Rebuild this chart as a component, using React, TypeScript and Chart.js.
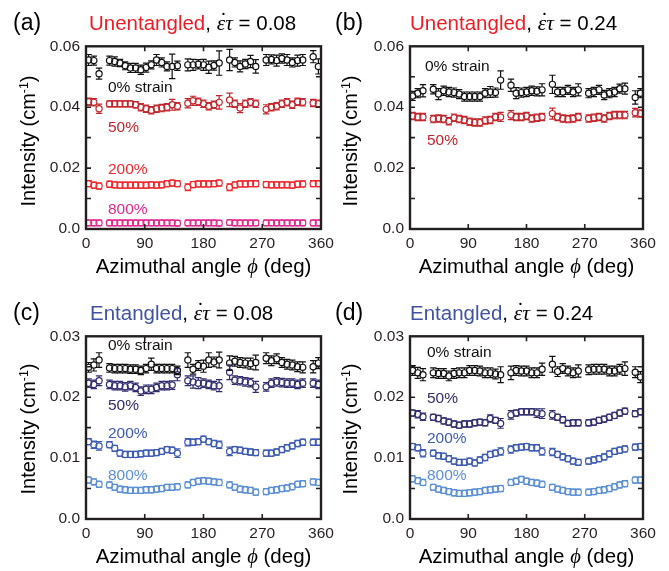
import React, { useEffect, useRef } from 'react';
import { Chart, registerables } from 'chart.js';
Chart.register(...registerables);

// Azimuthal angle bins (deg); gaps are masked sectors
const ANGLES = [4, 12, 20, 28, 36, 44, 52, 60, 68, 76, 84, 92, 100, 108, 116, 124, 132, 140, 148, 156, 164, 172, 180, 188, 196, 204, 212, 220, 228, 236, 244, 252, 260, 268, 276, 284, 292, 300, 308, 316, 324, 332, 340, 348, 356];

// (a) Unentangled, rate 0.08
const A_0 = [.0555, .0553, .0510, null, .0553, .0550, .0545, .0536, .0529, .0529, .0523, .0530, .0539, .0555, .0547, .0534, .0534, .0536, null, .0539, .0539, .0541, .0539, .0531, .0537, .0545, null, .0555, .0547, .0534, .0542, .0550, .0534, null, .0555, .0557, .0553, .0560, .0555, .0547, .0553, .0555, null, .0566, .0534];
const A_0_ERR = [.0018, .0015, .0018, null, .0015, .0015, .0012, .0013, .0015, .0015, .0015, .0015, .0013, .0018, .0015, .0015, .0040, .0015, null, .0020, .0018, .0015, .0018, .0020, .0015, .0040, null, .0035, .0015, .0018, .0015, .0020, .0022, null, .0018, .0015, .0018, .0015, .0018, .0015, .0018, .0018, null, .0020, .0025];
const A_50 = [.0418, .0416, .0395, null, .0411, .0411, .0411, .0411, .0411, .0408, .0400, .0395, .0390, .0395, .0397, .0400, .0408, .0403, null, .0413, .0421, .0418, .0411, .0403, .0408, .0416, null, .0424, .0411, .0397, .0411, .0416, .0411, null, .0393, .0400, .0403, .0411, .0416, .0408, .0418, .0416, null, .0414, .0411];
const A_50_ERR = [.0012, .0012, .0015, null, .0010, .0010, .0010, .0010, .0010, .0010, .0012, .0012, .0012, .0012, .0012, .0012, .0018, .0012, null, .0015, .0015, .0012, .0012, .0012, .0012, .0022, null, .0022, .0012, .0015, .0012, .0012, .0012, null, .0015, .0012, .0012, .0012, .0012, .0012, .0012, .0012, null, .0012, .0012];
const A_200 = [.0149, .0144, .0141, null, .0147, .0145, .0144, .0144, .0144, .0144, .0144, .0144, .0145, .0144, .0145, .0149, .0151, .0149, null, .0137, .0146, .0148, .0148, .0148, .0149, .0151, null, .0137, .0145, .0148, .0148, .0149, .0149, null, .0146, .0145, .0145, .0145, .0145, .0144, .0147, .0148, null, .0149, .0149];
const A_200_ERR = [.0010, .0010, .0010, null, .0010, .0010, .0010, .0010, .0010, .0010, .0010, .0010, .0010, .0010, .0010, .0010, .0010, .0010, null, .0011, .0010, .0010, .0010, .0010, .0010, .0010, null, .0011, .0010, .0010, .0010, .0010, .0010, null, .0010, .0010, .0010, .0010, .0010, .0010, .0010, .0010, null, .0010, .0010];
const A_800 = [.0020, .0020, .0020, null, .0020, .0020, .0020, .0020, .0020, .0020, .0020, .0020, .0020, .0020, .0020, .0020, .0020, .0019, null, .0020, .0020, .0020, .0020, .0020, .0020, .0019, null, .0021, .0020, .0020, .0020, .0020, .0020, null, .0020, .0020, .0020, .0020, .0020, .0020, .0020, .0020, null, .0020, .0020];
const A_800_ERR = [.0009, .0009, .0009, null, .0009, .0009, .0009, .0009, .0009, .0009, .0009, .0009, .0009, .0009, .0009, .0009, .0009, .0009, null, .0009, .0009, .0009, .0009, .0009, .0009, .0009, null, .0009, .0009, .0009, .0009, .0009, .0009, null, .0009, .0009, .0009, .0009, .0009, .0009, .0009, .0009, null, .0009, .0009];

// (b) Unentangled, rate 0.24
const B_0 = [.0437, .0446, .0454, null, .0459, .0443, .0454, .0450, .0448, .0443, .0435, .0435, .0435, .0435, .0446, .0450, .0448, .0489, null, .0472, .0446, .0448, .0450, .0454, .0452, .0457, null, .0475, .0450, .0450, .0457, .0450, .0457, null, .0446, .0450, .0457, .0440, .0446, .0450, .0461, .0461, null, .0432, .0446];
const B_0_ERR = [.0015, .0015, .0020, null, .0015, .0018, .0015, .0015, .0015, .0015, .0015, .0015, .0015, .0015, .0015, .0018, .0015, .0030, null, .0020, .0018, .0015, .0015, .0015, .0015, .0020, null, .0030, .0015, .0015, .0015, .0015, .0020, null, .0015, .0015, .0015, .0015, .0015, .0015, .0015, .0018, null, .0022, .0015];
const B_50 = [.0371, .0368, .0368, null, .0361, .0363, .0361, .0354, .0365, .0361, .0358, .0352, .0350, .0350, .0356, .0358, .0368, .0368, null, .0374, .0368, .0368, .0371, .0363, .0365, .0368, null, .0379, .0368, .0363, .0361, .0363, .0368, null, .0363, .0365, .0368, .0363, .0371, .0374, .0374, .0374, null, .0382, .0379];
const B_50_ERR = [.0012, .0012, .0012, null, .0012, .0012, .0012, .0012, .0012, .0012, .0012, .0012, .0012, .0012, .0012, .0012, .0012, .0015, null, .0015, .0012, .0012, .0012, .0012, .0012, .0012, null, .0018, .0012, .0012, .0012, .0012, .0012, null, .0012, .0012, .0012, .0012, .0012, .0012, .0012, .0012, null, .0014, .0012];

// (c) Entangled, rate 0.08
const C_0 = [.0249, .0253, .0261, null, .0248, .0247, .0247, .0247, .0246, .0246, .0244, .0247, .0254, .0247, .0247, .0247, .0247, .0244, null, .0261, .0246, .0252, .0251, .0261, .0258, .0261, null, .0256, .0259, .0257, .0256, .0255, .0257, null, .0264, .0260, .0263, .0257, .0254, .0253, .0250, .0249, null, .0250, .0256];
const C_0_ERR = [.0008, .0010, .0012, null, .0007, .0007, .0007, .0007, .0007, .0007, .0007, .0007, .0010, .0007, .0007, .0007, .0007, .0007, null, .0012, .0008, .0008, .0010, .0012, .0008, .0013, null, .0012, .0008, .0008, .0008, .0009, .0012, null, .0009, .0008, .0008, .0008, .0008, .0008, .0008, .0009, null, .0010, .0009];
const C_50 = [.0223, .0221, .0227, null, .0221, .0219, .0219, .0217, .0219, .0216, .0210, .0213, .0213, .0216, .0219, .0219, .0220, .0237, null, .0227, .0225, .0223, .0223, .0221, .0219, .0219, null, .0241, .0228, .0227, .0225, .0224, .0217, null, .0217, .0223, .0225, .0224, .0223, .0223, .0221, .0223, null, .0223, .0221];
const C_50_ERR = [.0007, .0007, .0008, null, .0007, .0007, .0007, .0007, .0007, .0007, .0007, .0007, .0007, .0007, .0007, .0007, .0007, .0010, null, .0008, .0010, .0009, .0007, .0007, .0007, .0010, null, .0012, .0007, .0007, .0007, .0007, .0009, null, .0007, .0007, .0007, .0007, .0007, .0007, .0007, .0007, null, .0007, .0007];
const C_200 = [.0127, .0122, .0120, null, .0122, .0116, .0108, .0106, .0106, .0106, .0107, .0108, .0108, .0109, .0111, .0114, .0113, .0108, null, .0126, .0126, .0127, .0131, .0127, .0124, .0122, null, .0111, .0114, .0113, .0111, .0110, .0109, null, .0108, .0108, .0110, .0114, .0117, .0120, .0124, .0126, null, .0126, .0126];
const C_200_ERR = [.0005, .0006, .0007, null, .0005, .0005, .0005, .0005, .0005, .0005, .0005, .0005, .0005, .0005, .0005, .0005, .0005, .0007, null, .0006, .0005, .0005, .0005, .0005, .0005, .0006, null, .0007, .0005, .0005, .0005, .0005, .0005, null, .0005, .0005, .0005, .0005, .0005, .0005, .0005, .0005, null, .0005, .0005];
const C_800 = [.0064, .0061, .0057, null, .0056, .0052, .0049, .0048, .0047, .0047, .0047, .0048, .0048, .0049, .0050, .0052, .0052, .0053, null, .0056, .0060, .0062, .0063, .0062, .0061, .0060, null, .0056, .0052, .0049, .0048, .0047, .0044, null, .0045, .0047, .0048, .0050, .0051, .0053, .0057, .0058, null, .0061, .0060];
const C_800_ERR = [.0005, .0005, .0005, null, .0005, .0005, .0005, .0005, .0005, .0005, .0005, .0005, .0005, .0005, .0005, .0005, .0005, .0005, null, .0005, .0005, .0005, .0005, .0005, .0005, .0005, null, .0005, .0005, .0005, .0005, .0005, .0005, null, .0005, .0005, .0005, .0005, .0005, .0005, .0005, .0005, null, .0005, .0005];

// (d) Entangled, rate 0.24
const D_0 = [.0244, .0240, .0237, null, .0240, .0239, .0239, .0235, .0239, .0240, .0240, .0244, .0244, .0243, .0240, .0240, .0238, .0237, null, .0240, .0244, .0243, .0243, .0240, .0240, .0246, null, .0254, .0242, .0247, .0243, .0240, .0243, null, .0245, .0246, .0246, .0246, .0243, .0243, .0246, .0247, null, .0241, .0233];
const D_0_ERR = [.0008, .0009, .0010, null, .0008, .0008, .0008, .0008, .0008, .0008, .0008, .0008, .0008, .0008, .0008, .0008, .0008, .0013, null, .0011, .0008, .0008, .0008, .0008, .0008, .0010, null, .0013, .0008, .0008, .0008, .0008, .0010, null, .0008, .0008, .0008, .0008, .0008, .0008, .0008, .0011, null, .0009, .0009];
const D_50 = [.0174, .0172, .0168, null, .0167, .0165, .0161, .0159, .0156, .0154, .0156, .0156, .0158, .0159, .0158, .0165, .0162, .0157, null, .0171, .0174, .0176, .0176, .0176, .0174, .0173, null, .0171, .0167, .0163, .0157, .0158, .0158, null, .0158, .0159, .0162, .0164, .0167, .0170, .0174, .0177, null, .0173, .0176];
const D_50_ERR = [.0005, .0006, .0006, null, .0005, .0005, .0005, .0005, .0005, .0005, .0005, .0005, .0005, .0005, .0005, .0006, .0005, .0008, null, .0007, .0005, .0005, .0005, .0005, .0007, .0008, null, .0007, .0005, .0005, .0005, .0005, .0005, null, .0005, .0005, .0005, .0005, .0005, .0005, .0005, .0005, null, .0005, .0005];
const D_200 = [.0119, .0117, .0108, null, .0108, .0104, .0103, .0099, .0095, .0093, .0093, .0095, .0092, .0097, .0101, .0106, .0108, .0111, null, .0114, .0117, .0118, .0119, .0117, .0117, .0111, null, .0110, .0106, .0102, .0099, .0095, .0093, null, .0095, .0097, .0099, .0102, .0107, .0111, .0113, .0115, null, .0118, .0119];
const D_200_ERR = [.0005, .0005, .0006, null, .0005, .0005, .0005, .0005, .0005, .0005, .0005, .0005, .0005, .0005, .0005, .0005, .0005, .0006, null, .0006, .0005, .0005, .0005, .0005, .0005, .0006, null, .0006, .0005, .0005, .0005, .0005, .0005, null, .0005, .0005, .0005, .0005, .0005, .0005, .0005, .0005, null, .0005, .0005];
const D_800 = [.0066, .0063, .0060, null, .0052, .0049, .0047, .0045, .0043, .0042, .0042, .0043, .0044, .0045, .0047, .0048, .0049, .0050, null, .0060, .0062, .0065, .0062, .0060, .0059, .0057, null, .0052, .0049, .0047, .0045, .0044, .0044, null, .0044, .0045, .0047, .0048, .0050, .0053, .0056, .0058, null, .0064, .0064];
const D_800_ERR = [.0005, .0005, .0005, null, .0005, .0005, .0005, .0005, .0005, .0005, .0005, .0005, .0005, .0005, .0005, .0005, .0005, .0005, null, .0005, .0005, .0005, .0005, .0005, .0005, .0005, null, .0005, .0005, .0005, .0005, .0005, .0005, null, .0005, .0005, .0005, .0005, .0005, .0005, .0005, .0005, null, .0005, .0005];

const X_TICKS = [0, 90, 180, 270, 360];

const SANS = "'Liberation Sans', Arial, Helvetica, sans-serif";
const SERIF = "'Liberation Serif', 'DejaVu Serif', 'Times New Roman', serif";
const INK = '#231f20';
const C_BLACK = '#111111';
const C_DRED = '#c1272d';
const C_RED = '#ee2a2f';
const C_MAG = '#e0288f';
const C_NAVY = '#302c6d';
const C_BLUE = '#3d5bb0';
const C_LBLUE = '#5b8fd3';
const T_RED = '#ec1c24';
const T_BLUE = '#3f52a4';

const R = 3.1;
const CAP = 3.2;
const PADL = 60, PADT = 12, PADR = 22, PADB = 34;

const chartPlugin = {
  id: 'frameErr',
  afterDatasetsDraw(chart: any) {
    const ctx = chart.ctx;
    const xs = chart.scales.x, ys = chart.scales.y;
    chart.data.datasets.forEach((ds: any) => {
      ctx.save();
      ctx.strokeStyle = ds.pointBorderColor;
      ctx.lineWidth = 1.2;
      ds.data.forEach((p: any) => {
        const px = xs.getPixelForValue(p.x);
        const py = ys.getPixelForValue(p.y);
        const top = ys.getPixelForValue(p.y + p.e);
        const bot = ys.getPixelForValue(p.y - p.e);
        ctx.beginPath();
        if (py - top > R) { ctx.moveTo(px, py - R); ctx.lineTo(px, top); }
        if (bot - py > R) { ctx.moveTo(px, py + R); ctx.lineTo(px, bot); }
        ctx.moveTo(px - CAP, top); ctx.lineTo(px + CAP, top);
        ctx.moveTo(px - CAP, bot); ctx.lineTo(px + CAP, bot);
        ctx.stroke();
      });
      ctx.restore();
    });
  },
  afterDraw(chart: any) {
    const ctx = chart.ctx;
    const { left, right, top, bottom } = chart.chartArea;
    const xs = chart.scales.x, ys = chart.scales.y;
    ctx.save();
    ctx.strokeStyle = INK;
    ctx.lineWidth = 1.6;
    ctx.beginPath();
    ys.ticks.forEach((t: any) => {
      const py = ys.getPixelForValue(t.value);
      if (py <= top + 1 || py >= bottom - 1) return;
      ctx.moveTo(left, py); ctx.lineTo(left + 5, py);
      ctx.moveTo(right, py); ctx.lineTo(right - 5, py);
    });
    xs.ticks.forEach((t: any) => {
      const px = xs.getPixelForValue(t.value);
      if (px <= left + 1 || px >= right - 1) return;
      ctx.moveTo(px, bottom); ctx.lineTo(px, bottom - 5);
      ctx.moveTo(px, top); ctx.lineTo(px, top + 5);
    });
    ctx.stroke();
    ctx.lineWidth = 2.4;
    ctx.strokeRect(left, top, right - left, bottom - top);
    ctx.restore();
  },
};

type S = { values: (number | null)[]; errors: (number | null)[]; color: string };

function Panel({ L, T, W, H, yMax, yStep, series }: { L: number; T: number; W: number; H: number; yMax: number; yStep: number; series: S[] }) {
  const ref = useRef<HTMLCanvasElement>(null);
  const cw = W + PADL + PADR, chh = H + PADT + PADB;
  useEffect(() => {
    const font = { family: SANS, size: 15.5 };
    const chart = new Chart(ref.current as HTMLCanvasElement, {
      type: 'scatter',
      data: {
        datasets: series.map((s) => ({
          data: ANGLES.map((a, i) => (s.values[i] == null ? null : { x: a, y: s.values[i], e: s.errors[i] ?? 0 })).filter(Boolean) as any,
          pointBorderColor: s.color,
          pointBackgroundColor: 'rgba(0,0,0,0)',
          pointRadius: R,
          pointHoverRadius: R,
          pointBorderWidth: 1.2,
          showLine: false,
          clip: false as any,
        })),
      },
      options: {
        animation: false,
        responsive: false,
        maintainAspectRatio: false,
        events: [],
        layout: { padding: { left: 0, top: PADT, right: PADR, bottom: 0 } },
        plugins: { legend: { display: false }, tooltip: { enabled: false }, title: { display: false } },
        scales: {
          x: {
            type: 'linear', min: 0, max: 360,
            afterBuildTicks: (sc: any) => { sc.ticks = X_TICKS.map((v) => ({ value: v })); },
            ticks: { autoSkip: false, maxRotation: 0, padding: 5, color: INK, font, callback: (v: any) => String(v) },
            grid: { display: false, drawTicks: false },
            border: { display: false },
            afterFit: (sc: any) => { sc.height = PADB; },
          },
          y: {
            type: 'linear', min: 0, max: yMax,
            ticks: {
              stepSize: yStep, autoSkip: false, padding: 6, color: INK, font,
              callback: (v: any, i: number) => (i % 2 === 0 ? (Number(v) === 0 ? '0.0' : Number(v).toFixed(2)) : ''),
            },
            grid: { display: false, drawTicks: false },
            border: { display: false },
            afterFit: (sc: any) => { sc.width = PADL; },
          },
        },
      } as any,
      plugins: [chartPlugin],
    });
    return () => chart.destroy();
  }, []);
  return (
    <canvas ref={ref} width={cw} height={chh}
      style={{ position: 'absolute', left: L - PADL, top: T - PADT, width: cw, height: chh }} />
  );
}

function Txt({ x, base, size, color = '#000', children, w, center }: any) {
  return (
    <div style={{
      position: 'absolute', left: x, top: base - size * 0.8465, fontSize: size, lineHeight: `${size}px`,
      fontFamily: SANS, color, whiteSpace: 'nowrap', width: w, textAlign: center ? 'center' : 'left',
    }}>{children}</div>
  );
}

const Eps = () => (
  <i style={{ fontFamily: SERIF, fontSize: '1.05em' }}>
    <span style={{ position: 'relative', display: 'inline-block' }}>
      {'\u03B5'}
      <span style={{ position: 'absolute', left: '0.08em', right: 0, top: '-0.12em', textAlign: 'center' }}>{'\u02D9'}</span>
    </span>
    {'\u03C4'}
  </i>
);

function Title({ x, base, word, color, rate }: any) {
  return (
    <Txt x={x} base={base} size={20.5}>
      <span style={{ color }}>{word}</span>, <Eps /> = {rate}
    </Txt>
  );
}

function XTitle({ L, W, base }: any) {
  return (
    <Txt x={L} w={W} base={base} size={20.5} center>
      Azimuthal angle <i style={{ fontFamily: SERIF }}>{'\u03D5'}</i> (deg)
    </Txt>
  );
}

function YTitle({ cx, cy }: any) {
  return (
    <div style={{
      position: 'absolute', left: cx, top: cy, transform: 'translate(-50%,-50%) rotate(-90deg)',
      fontFamily: SANS, fontSize: 20, lineHeight: '20px', whiteSpace: 'nowrap', color: '#000',
    }}>
      Intensity (cm<span style={{ fontSize: '0.62em', position: 'relative', top: '-0.6em' }}>-1</span>)
    </div>
  );
}

export default function App() {
  const A = { L: 86, T: 43, W: 235, H: 186 };
  const B = { L: 410, T: 43, W: 233, H: 186 };
  const Cc = { L: 86, T: 333, W: 235, H: 186 };
  const Dd = { L: 410, T: 333, W: 233, H: 186 };
  return (
    <div style={{ position: 'fixed', left: 0, top: 0, width: 669, height: 571, background: '#fff', overflow: 'hidden' }}>
      <Panel {...A} yMax={0.06} yStep={0.01} series={[
        { values: A_0, errors: A_0_ERR, color: C_BLACK },
        { values: A_50, errors: A_50_ERR, color: C_DRED },
        { values: A_200, errors: A_200_ERR, color: C_RED },
        { values: A_800, errors: A_800_ERR, color: C_MAG },
      ]} />
      <Panel {...B} yMax={0.06} yStep={0.01} series={[
        { values: B_0, errors: B_0_ERR, color: C_BLACK },
        { values: B_50, errors: B_50_ERR, color: C_DRED },
      ]} />
      <Panel {...Cc} yMax={0.03} yStep={0.005} series={[
        { values: C_0, errors: C_0_ERR, color: C_BLACK },
        { values: C_50, errors: C_50_ERR, color: C_NAVY },
        { values: C_200, errors: C_200_ERR, color: C_BLUE },
        { values: C_800, errors: C_800_ERR, color: C_LBLUE },
      ]} />
      <Panel {...Dd} yMax={0.03} yStep={0.005} series={[
        { values: D_0, errors: D_0_ERR, color: C_BLACK },
        { values: D_50, errors: D_50_ERR, color: C_NAVY },
        { values: D_200, errors: D_200_ERR, color: C_BLUE },
        { values: D_800, errors: D_800_ERR, color: C_LBLUE },
      ]} />

      <Txt x={13} base={30} size={23}>(a)</Txt>
      <Txt x={335} base={30} size={23}>(b)</Txt>
      <Txt x={13} base={320} size={23}>(c)</Txt>
      <Txt x={335} base={320} size={23}>(d)</Txt>

      <Title x={89} base={30} word="Unentangled" color={T_RED} rate="0.08" />
      <Title x={410} base={30} word="Unentangled" color={T_RED} rate="0.24" />
      <Title x={90} base={320} word="Entangled" color={T_BLUE} rate="0.08" />
      <Title x={410} base={320} word="Entangled" color={T_BLUE} rate="0.24" />

      <XTitle L={A.L} W={A.W} base={273.5} />
      <XTitle L={B.L} W={B.W} base={273.5} />
      <XTitle L={Cc.L} W={Cc.W} base={563.5} />
      <XTitle L={Dd.L} W={Dd.W} base={563.5} />

      <YTitle cx={29} cy={141} />
      <YTitle cx={351} cy={141} />
      <YTitle cx={29} cy={429} />
      <YTitle cx={351} cy={429} />

      <Txt x={108} base={92.5} size={15.5} color={C_BLACK}>0% strain</Txt>
      <Txt x={108} base={132.5} size={15.5} color={C_DRED}>50%</Txt>
      <Txt x={108} base={174} size={15.5} color={C_RED}>200%</Txt>
      <Txt x={108} base={214} size={15.5} color={C_MAG}>800%</Txt>

      <Txt x={425} base={71} size={15.5} color={C_BLACK}>0% strain</Txt>
      <Txt x={427} base={145.5} size={15.5} color={C_DRED}>50%</Txt>

      <Txt x={108} base={350.5} size={15.5} color={C_BLACK}>0% strain</Txt>
      <Txt x={108} base={410.5} size={15.5} color={C_NAVY}>50%</Txt>
      <Txt x={108} base={438.5} size={15.5} color={C_BLUE}>200%</Txt>
      <Txt x={108} base={480.5} size={15.5} color={C_LBLUE}>800%</Txt>

      <Txt x={427} base={357.5} size={15.5} color={C_BLACK}>0% strain</Txt>
      <Txt x={427} base={403.5} size={15.5} color={C_NAVY}>50%</Txt>
      <Txt x={427} base={443.5} size={15.5} color={C_BLUE}>200%</Txt>
      <Txt x={427} base={480.5} size={15.5} color={C_LBLUE}>800%</Txt>
    </div>
  );
}
